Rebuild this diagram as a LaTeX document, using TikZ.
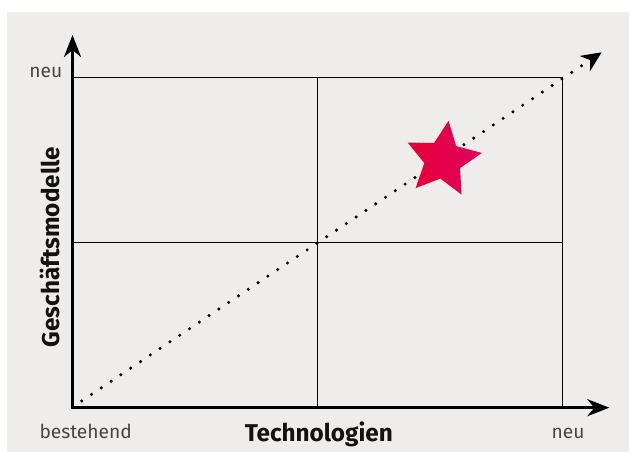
\documentclass[tikz,border=0pt]{standalone}
\usepackage{fontspec}
\setmainfont{Fira Sans}
\usetikzlibrary{arrows.meta,calc}
\definecolor{bg}{RGB}{238,237,235}
\definecolor{lbl}{RGB}{70,70,70}
\definecolor{starA}{RGB}{231,0,52}
\definecolor{starB}{RGB}{224,0,100}
\tikzset{
  axis/.style={line width=3.3pt, line join=miter, {Stealth[length=22pt,width=17pt,inset=7pt]}-{Stealth[length=22pt,width=17pt,inset=7pt]}},
  gridline/.style={line width=1.2pt, black},
  diag/.style={line width=3.4pt, line cap=round, dash pattern=on 0pt off 11.8pt, -{Stealth[length=20pt,width=18pt,inset=6pt]}},
  tick/.style={inner sep=0pt, text=lbl, font=\fontsize{19.2}{23}\selectfont},
  axislabel/.style={inner sep=0pt, text=black!93, font=\fontsize{24.3}{29}\selectfont\bfseries},
}
\begin{document}
\begin{tikzpicture}[x=1pt,y=1pt]
\useasboundingbox (0,0) rectangle (629,452);
\fill[bg] (7,0) rectangle (629,440);
% named points
\coordinate (O) at (72.5,44.3);
\coordinate (XT) at (609.3,44.3);
\coordinate (YT) at (72.5,417);
\coordinate (TR) at (562.7,374.7);
\coordinate (MX) at (317.6,44.3);
\coordinate (MXT) at (317.6,374.7);
\coordinate (MY) at (72.5,209.5);
\coordinate (MYR) at (562.7,209.5);
\coordinate (DS) at (81.7,51);
\coordinate (DE) at (601.7,399.7);
\coordinate (SC) at (443,292.2);
% grid
\draw[gridline] (O) rectangle (TR);
\draw[gridline] (MX) -- (MXT);
\draw[gridline] (MY) -- (MYR);
% diagonal
\draw[diag] (DS) -- (DE);
% star
\shade[left color=starA, right color=starB]
  ($(SC)+(82:39.4)$) \foreach \k in {1,...,9} {
    -- ($(SC)+({82+36*\k}:{ifthenelse(mod(\k,2)==1,19,39.4)})$)
  } -- cycle;
% axes
\draw[axis] (YT) -- (O) -- (XT);
% labels
\node[tick, anchor=base east] (ny) at (62.5,374.7) {neu};
\node[tick, anchor=base west] (be) at (39.3,13.7) {bestehend};
\node[tick, anchor=base] (nx) at (568,13.7) {neu};
\node[axislabel, anchor=base] (tech) at (318.8,10.3) {Technologien};
\node[axislabel, anchor=base, rotate=90] (gesch) at (59.3,204.8) {Geschäftsmodelle};
\end{tikzpicture}
\end{document}
